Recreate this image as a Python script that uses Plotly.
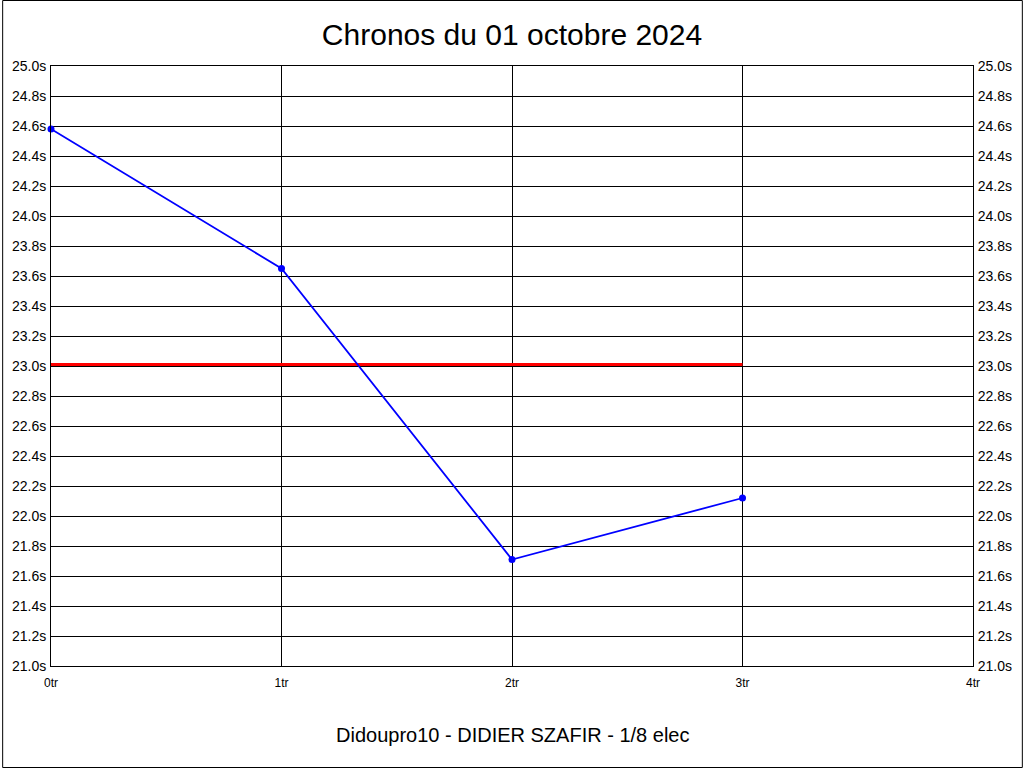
import plotly.graph_objects as go

tours = [0, 1, 2, 3]
chronos = [24.58, 23.65, 21.71, 22.12]
ref_x = [0, 3]
ref_y = [23.01, 23.01]
x_ticks = [0, 1, 2, 3, 4]
y_ticks = [round(21.0 + 0.2 * i, 1) for i in range(21)]
x_labels = [f"{v}tr" for v in x_ticks]
y_labels = [f"{v:.1f}s" for v in y_ticks]

title = "Chronos du 01 octobre 2024"
subtitle = "Didoupro10 - DIDIER SZAFIR - 1/8 elec"

FONT = "Liberation Sans, Arial, sans-serif"

fig = go.Figure()
fig.add_trace(go.Scatter(x=ref_x, y=ref_y, mode="lines",
                         line=dict(color="#ff0000", width=3), hoverinfo="skip"))
fig.add_trace(go.Scatter(x=tours, y=chronos, mode="lines+markers", cliponaxis=False,
                         line=dict(color="#0000ff", width=1.8),
                         marker=dict(color="#0000ff", size=7)))
fig.add_trace(go.Scatter(x=[0], y=[23], yaxis="y2", mode="markers",
                         marker=dict(opacity=0), hoverinfo="skip"))

L, R, T, B = 49, 50, 66, 102
W, H = 1024, 768
pw, ph = W - L - R, H - T - B

fig.update_layout(
    width=W, height=H, autosize=False,
    margin=dict(l=L, r=R, t=T, b=B, pad=0),
    paper_bgcolor="white", plot_bgcolor="white",
    showlegend=False,
    font=dict(family=FONT, color="black", size=13),
    title=dict(text=title, x=0.5, xanchor="center", y=1 - 34 / H, yanchor="middle",
               font=dict(size=30, family=FONT, color="black")),
    xaxis=dict(range=[0, 4], tickmode="array", tickvals=x_ticks, ticktext=x_labels,
               showgrid=True, gridcolor="black", gridwidth=1,
               showline=True, linecolor="black", linewidth=1, mirror=True,
               zeroline=False, ticks="outside", ticklen=6, tickcolor="rgba(0,0,0,0)",
               tickfont=dict(size=12, family=FONT)),
    yaxis=dict(range=[21, 25], tickmode="array", tickvals=y_ticks, ticktext=y_labels,
               showgrid=True, gridcolor="black", gridwidth=1,
               showline=True, linecolor="black", linewidth=1, mirror=True,
               zeroline=False, ticks="outside", ticklen=1, tickcolor="rgba(0,0,0,0)",
               tickfont=dict(size=14, family=FONT)),
    yaxis2=dict(range=[21, 25], tickmode="array", tickvals=y_ticks, ticktext=y_labels,
                overlaying="y", side="right", showgrid=False, zeroline=False,
                showline=False, ticks="outside", ticklen=1, tickcolor="rgba(0,0,0,0)",
                tickfont=dict(size=14, family=FONT)),
    annotations=[dict(text=subtitle, xref="paper", yref="paper",
                      x=0.5 + (512 - (L + pw / 2)) / pw, y=(H - B - 735) / ph,
                      xanchor="center", yanchor="middle", showarrow=False,
                      font=dict(size=20, family=FONT, color="black"))],
    shapes=[dict(type="rect", xref="paper", yref="paper",
                 x0=(0.5 - L) / pw, x1=(W - 0.5 - L) / pw,
                 y0=(H - B - (H - 0.5)) / ph, y1=(H - B - 0.5) / ph,
                 line=dict(color="black", width=1), fillcolor="rgba(0,0,0,0)")],
)

fig.write_html("out.html", config={"displayModeBar": False},
               post_script="document.body.style.margin='0';document.body.style.overflow='hidden';")
